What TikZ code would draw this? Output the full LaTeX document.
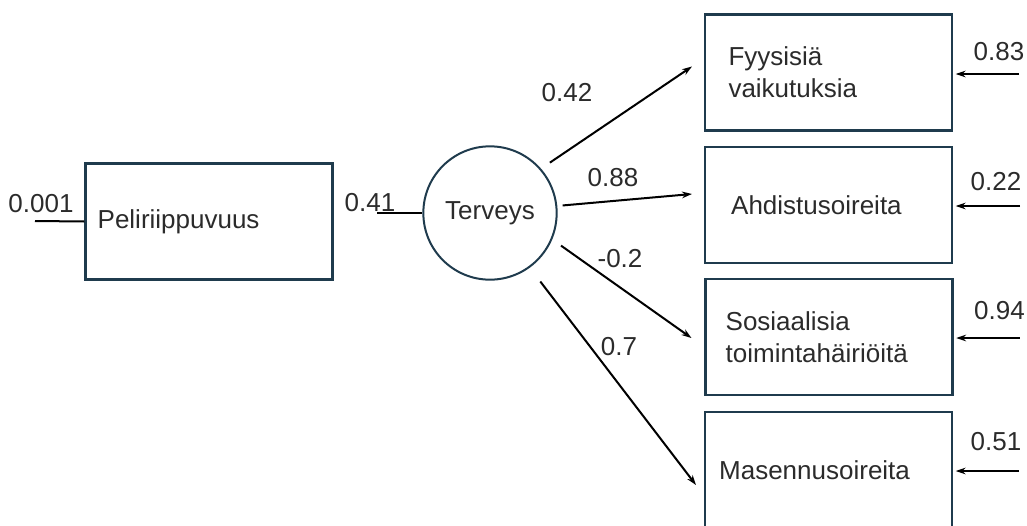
\documentclass[tikz,border=0pt]{standalone}
\usepackage{fontspec}
\setmainfont{Liberation Sans}
\usetikzlibrary{arrows.meta,calc}
\definecolor{rim}{HTML}{1F3B4D}
\definecolor{ink}{HTML}{2B2B2B}

\begin{document}
\begin{tikzpicture}[x=.75pt,y=-.75pt,>={Stealth[length=7.5pt,width=5pt]},
  font=\fontsize{19.5}{24}\selectfont,text=ink,
  box/.style={draw=rim,line width=1.8pt,inner xsep=0pt,minimum width=185pt,minimum height=87pt,align=left,text width=#1},
  lat/.style={draw=rim,line width=1.5pt,circle,minimum size=100pt,inner sep=0pt},
  link/.style={line width=1.5pt},
  num/.style={inner sep=0pt}]
\useasboundingbox (0,0) rectangle (1027,525);
% variables
\node[box=167pt] (pel) at (209,221.5) {Peliriippuvuus};
\node[lat] (ter) at (490,213) {Terveys};
\node[box=150pt] (fyy) at (828.5,72.5) {Fyysisiä\\vaikutuksia};
\node[box=146pt] (ahd) at (828.5,205) {Ahdistusoireita};
\node[box=155pt] (sos) at (829,337) {Sosiaalisia\\toimintahäiriöitä};
\node[box=164pt] (mas) at (828.5,470) {Masennusoireita};
% error terms on the left
\coordinate (e0) at (35,221); \coordinate (e1) at (377,213);
\draw[link] (e0)--(pel.west); \draw[link] (e1)--(ter.west);
\node[num] (w0) at (41,204) {0.001}; \node[num] (w5) at (370,203) {0.41};
% loadings
\draw[link,->,shorten <=8pt] (ter.41)--($(fyy.west)+(-12,-6)$);
\draw[link,->,shorten <=4pt] (ter.6)--($(ahd.west)+(-12,-11)$);
\draw[link,->,shorten <=8pt] (ter.-23)--($(sos.west)+(-13,1)$);
\draw[link,->,shorten <=13pt] (ter.-54)--($(mas.west)+(-8,15)$);
\node[num] (w1) at (567,93) {0.42}; \node[num] (w2) at (613,178) {0.88};
\node[num] (w3) at (620,259) {-0.2}; \node[num] (w4) at (619,347) {0.7};
% residuals on the right
\coordinate (rf) at ($(fyy.east)+(66,1.5)$); \coordinate (ra) at ($(ahd.east)+(67,1)$);
\coordinate (rs) at ($(sos.east)+(66,1)$); \coordinate (rm) at ($(mas.east)+(66,1)$);
\draw[link,->,shorten >=2pt] (rf)--(rf -| fyy.east);
\draw[link,->,shorten >=2pt] (ra)--(ra -| ahd.east);
\draw[link,->,shorten >=2pt] (rs)--(rs -| sos.east);
\draw[link,->,shorten >=2pt] (rm)--(rm -| mas.east);
\node[num] (v1) at ($(rf)+(-20,-22)$) {0.83}; \node[num] (v2) at ($(ra)+(-24,-24)$) {0.22};
\node[num] (v3) at ($(rs)+(-20,-27)$) {0.94}; \node[num] (v4) at ($(rm)+(-23,-29)$) {0.51};
\end{tikzpicture}
\end{document}
